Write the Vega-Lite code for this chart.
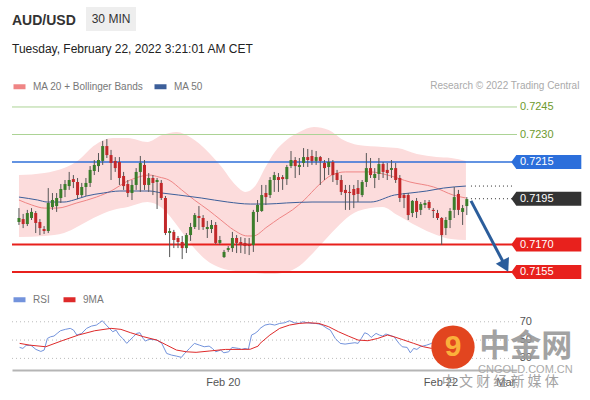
{
  "$schema": "https://vega.github.io/schema/vega-lite/v6.json",
  "width": 505,
  "height": 275,
  "autosize": "none",
  "padding": {"left": 12, "top": 95, "right": 73, "bottom": 30},
  "background": "white",
  "title": {
    "text": "AUD/USD",
    "subtitle": "Tuesday, February 22, 2022 3:21:01 AM CET",
    "anchor": "start",
    "frame": "group",
    "fontSize": 14,
    "fontWeight": "bold",
    "color": "#333333",
    "subtitleFontSize": 12,
    "subtitleColor": "#222222",
    "subtitlePadding": 16,
    "offset": -48
  },
  "config": {
    "view": {"stroke": null},
    "font": "Liberation Sans",
    "legend": {"labelFont": "Liberation Sans", "labelFontSize": 10, "labelColor": "#777777", "symbolType": "stroke", "symbolStrokeWidth": 5, "symbolSize": 144, "labelOffset": 5}
  },
  "datasets": {
    "candles": [
      {"i":0,"o":0.71823,"h":0.71899,"l":0.71807,"c":0.71845},
      {"i":1,"o":0.71839,"h":0.71867,"l":0.71790,"c":0.71812},
      {"i":2,"o":0.71812,"h":0.71889,"l":0.71801,"c":0.71872},
      {"i":3,"o":0.71845,"h":0.71899,"l":0.71834,"c":0.71878},
      {"i":4,"o":0.71872,"h":0.71883,"l":0.71763,"c":0.71818},
      {"i":5,"o":0.71823,"h":0.71839,"l":0.71752,"c":0.71790},
      {"i":6,"o":0.71785,"h":0.71801,"l":0.71758,"c":0.71774},
      {"i":7,"o":0.71774,"h":0.72008,"l":0.71763,"c":0.71927},
      {"i":8,"o":0.71905,"h":0.71981,"l":0.71889,"c":0.71943},
      {"i":9,"o":0.71910,"h":0.71981,"l":0.71878,"c":0.71954},
      {"i":10,"o":0.71954,"h":0.72030,"l":0.71927,"c":0.72003},
      {"i":11,"o":0.71998,"h":0.72052,"l":0.71959,"c":0.72030},
      {"i":12,"o":0.72019,"h":0.72096,"l":0.71998,"c":0.72052},
      {"i":13,"o":0.72057,"h":0.72079,"l":0.72008,"c":0.72041},
      {"i":14,"o":0.72041,"h":0.72063,"l":0.71948,"c":0.71970},
      {"i":15,"o":0.71970,"h":0.72036,"l":0.71959,"c":0.72014},
      {"i":16,"o":0.72014,"h":0.72063,"l":0.71965,"c":0.72036},
      {"i":17,"o":0.72036,"h":0.72128,"l":0.72014,"c":0.72107},
      {"i":18,"o":0.72101,"h":0.72161,"l":0.72079,"c":0.72134},
      {"i":19,"o":0.72128,"h":0.72199,"l":0.72096,"c":0.72161},
      {"i":20,"o":0.72156,"h":0.72265,"l":0.72134,"c":0.72237},
      {"i":21,"o":0.72237,"h":0.72275,"l":0.72172,"c":0.72188},
      {"i":22,"o":0.72188,"h":0.72216,"l":0.72052,"c":0.72145},
      {"i":23,"o":0.72156,"h":0.72177,"l":0.72096,"c":0.72117},
      {"i":24,"o":0.72150,"h":0.72177,"l":0.72025,"c":0.72063},
      {"i":25,"o":0.72074,"h":0.72096,"l":0.71998,"c":0.72019},
      {"i":26,"o":0.72030,"h":0.72052,"l":0.71959,"c":0.71981},
      {"i":27,"o":0.71981,"h":0.72052,"l":0.71943,"c":0.72025},
      {"i":28,"o":0.72025,"h":0.72117,"l":0.71998,"c":0.72096},
      {"i":29,"o":0.72096,"h":0.72183,"l":0.71987,"c":0.72145},
      {"i":30,"o":0.72134,"h":0.72161,"l":0.71998,"c":0.72025},
      {"i":31,"o":0.72025,"h":0.72090,"l":0.71987,"c":0.72063},
      {"i":32,"o":0.72063,"h":0.72079,"l":0.71970,"c":0.72036},
      {"i":33,"o":0.72041,"h":0.72063,"l":0.71894,"c":0.72052},
      {"i":34,"o":0.72036,"h":0.72052,"l":0.71943,"c":0.71954},
      {"i":35,"o":0.71954,"h":0.71965,"l":0.71752,"c":0.71763},
      {"i":36,"o":0.71763,"h":0.71790,"l":0.71632,"c":0.71774},
      {"i":37,"o":0.71769,"h":0.71780,"l":0.71681,"c":0.71725},
      {"i":38,"o":0.71736,"h":0.71747,"l":0.71681,"c":0.71714},
      {"i":39,"o":0.71714,"h":0.71747,"l":0.71621,"c":0.71681},
      {"i":40,"o":0.71681,"h":0.71763,"l":0.71654,"c":0.71752},
      {"i":41,"o":0.71752,"h":0.71818,"l":0.71720,"c":0.71796},
      {"i":42,"o":0.71796,"h":0.71872,"l":0.71785,"c":0.71861},
      {"i":43,"o":0.71856,"h":0.71910,"l":0.71780,"c":0.71845},
      {"i":44,"o":0.71845,"h":0.71861,"l":0.71780,"c":0.71796},
      {"i":45,"o":0.71785,"h":0.71829,"l":0.71736,"c":0.71796},
      {"i":46,"o":0.71785,"h":0.71834,"l":0.71763,"c":0.71807},
      {"i":47,"o":0.71807,"h":0.71823,"l":0.71703,"c":0.71709},
      {"i":48,"o":0.71709,"h":0.71747,"l":0.71698,"c":0.71725},
      {"i":49,"o":0.71632,"h":0.71671,"l":0.71627,"c":0.71660},
      {"i":50,"o":0.71671,"h":0.71692,"l":0.71660,"c":0.71681},
      {"i":51,"o":0.71681,"h":0.71769,"l":0.71660,"c":0.71736},
      {"i":52,"o":0.71736,"h":0.71752,"l":0.71654,"c":0.71709},
      {"i":53,"o":0.71714,"h":0.71741,"l":0.71654,"c":0.71698},
      {"i":54,"o":0.71709,"h":0.71736,"l":0.71649,"c":0.71692},
      {"i":55,"o":0.71703,"h":0.71736,"l":0.71643,"c":0.71692},
      {"i":56,"o":0.71698,"h":0.71889,"l":0.71660,"c":0.71878},
      {"i":57,"o":0.71878,"h":0.71943,"l":0.71823,"c":0.71916},
      {"i":58,"o":0.71883,"h":0.72025,"l":0.71878,"c":0.71970},
      {"i":59,"o":0.71981,"h":0.72025,"l":0.71916,"c":0.71959},
      {"i":60,"o":0.71970,"h":0.72068,"l":0.71954,"c":0.72052},
      {"i":61,"o":0.72052,"h":0.72096,"l":0.71987,"c":0.72079},
      {"i":62,"o":0.72068,"h":0.72090,"l":0.71987,"c":0.72052},
      {"i":63,"o":0.72068,"h":0.72079,"l":0.71998,"c":0.72057},
      {"i":64,"o":0.72057,"h":0.72134,"l":0.72025,"c":0.72123},
      {"i":65,"o":0.72128,"h":0.72210,"l":0.72117,"c":0.72161},
      {"i":66,"o":0.72161,"h":0.72177,"l":0.72063,"c":0.72128},
      {"i":67,"o":0.72123,"h":0.72172,"l":0.72079,"c":0.72134},
      {"i":68,"o":0.72145,"h":0.72226,"l":0.72123,"c":0.72177},
      {"i":69,"o":0.72177,"h":0.72221,"l":0.72123,"c":0.72161},
      {"i":70,"o":0.72183,"h":0.72216,"l":0.72134,"c":0.72156},
      {"i":71,"o":0.72156,"h":0.72210,"l":0.72134,"c":0.72177},
      {"i":72,"o":0.72177,"h":0.72183,"l":0.72025,"c":0.72156},
      {"i":73,"o":0.72145,"h":0.72161,"l":0.72052,"c":0.72117},
      {"i":74,"o":0.72123,"h":0.72172,"l":0.72079,"c":0.72150},
      {"i":75,"o":0.72150,"h":0.72161,"l":0.72041,"c":0.72079},
      {"i":76,"o":0.72090,"h":0.72107,"l":0.72025,"c":0.72052},
      {"i":77,"o":0.72052,"h":0.72079,"l":0.71970,"c":0.71987},
      {"i":78,"o":0.71998,"h":0.72025,"l":0.71889,"c":0.71981},
      {"i":79,"o":0.71987,"h":0.72025,"l":0.71889,"c":0.71981},
      {"i":80,"o":0.72003,"h":0.72025,"l":0.71899,"c":0.71970},
      {"i":81,"o":0.72008,"h":0.72052,"l":0.71932,"c":0.71976},
      {"i":82,"o":0.71970,"h":0.72052,"l":0.71959,"c":0.72041},
      {"i":83,"o":0.72041,"h":0.72199,"l":0.72014,"c":0.72117},
      {"i":84,"o":0.72117,"h":0.72172,"l":0.72063,"c":0.72079},
      {"i":85,"o":0.72063,"h":0.72117,"l":0.72008,"c":0.72085},
      {"i":86,"o":0.72085,"h":0.72172,"l":0.72052,"c":0.72139},
      {"i":87,"o":0.72139,"h":0.72150,"l":0.72063,"c":0.72096},
      {"i":88,"o":0.72107,"h":0.72145,"l":0.72052,"c":0.72090},
      {"i":89,"o":0.72107,"h":0.72161,"l":0.72063,"c":0.72117},
      {"i":90,"o":0.72117,"h":0.72145,"l":0.72036,"c":0.72052},
      {"i":91,"o":0.72063,"h":0.72079,"l":0.71932,"c":0.71954},
      {"i":92,"o":0.71970,"h":0.71981,"l":0.71899,"c":0.71954},
      {"i":93,"o":0.71970,"h":0.71981,"l":0.71834,"c":0.71861},
      {"i":94,"o":0.71872,"h":0.71943,"l":0.71850,"c":0.71938},
      {"i":95,"o":0.71938,"h":0.71954,"l":0.71845,"c":0.71878},
      {"i":96,"o":0.71889,"h":0.71932,"l":0.71861,"c":0.71921},
      {"i":97,"o":0.71916,"h":0.71943,"l":0.71899,"c":0.71927},
      {"i":98,"o":0.71932,"h":0.71943,"l":0.71889,"c":0.71899},
      {"i":99,"o":0.71889,"h":0.71899,"l":0.71845,"c":0.71883},
      {"i":100,"o":0.71872,"h":0.71889,"l":0.71834,"c":0.71845},
      {"i":101,"o":0.71845,"h":0.71850,"l":0.71698,"c":0.71752},
      {"i":102,"o":0.71790,"h":0.71850,"l":0.71752,"c":0.71834},
      {"i":103,"o":0.71834,"h":0.71899,"l":0.71790,"c":0.71883},
      {"i":104,"o":0.71889,"h":0.72014,"l":0.71845,"c":0.71959},
      {"i":105,"o":0.71976,"h":0.71998,"l":0.71861,"c":0.71889},
      {"i":106,"o":0.71878,"h":0.71916,"l":0.71807,"c":0.71899},
      {"i":107,"o":0.71910,"h":0.71959,"l":0.71861,"c":0.71948}
    ],
    "bands": [
      {"i":0,"u":0.72079,"lo":0.71741},
      {"i":6.09,"u":0.72090,"lo":0.71747},
      {"i":10.77,"u":0.72117,"lo":0.71763},
      {"i":14.29,"u":0.72161,"lo":0.71801},
      {"i":17.80,"u":0.72237,"lo":0.71845},
      {"i":22.48,"u":0.72281,"lo":0.71889},
      {"i":26.00,"u":0.72281,"lo":0.71905},
      {"i":30.68,"u":0.72259,"lo":0.71932},
      {"i":34.19,"u":0.72297,"lo":0.71899},
      {"i":37.70,"u":0.72314,"lo":0.71807},
      {"i":41.22,"u":0.72281,"lo":0.71698},
      {"i":44.73,"u":0.72216,"lo":0.71616},
      {"i":48.24,"u":0.72128,"lo":0.71572},
      {"i":51.76,"u":0.72025,"lo":0.71556},
      {"i":54.10,"u":0.71987,"lo":0.71550},
      {"i":56.44,"u":0.72019,"lo":0.71545},
      {"i":58.78,"u":0.72117,"lo":0.71540},
      {"i":61.12,"u":0.72205,"lo":0.71540},
      {"i":63.93,"u":0.72270,"lo":0.71550},
      {"i":66.98,"u":0.72314,"lo":0.71583},
      {"i":70.49,"u":0.72341,"lo":0.71660},
      {"i":74.00,"u":0.72325,"lo":0.71747},
      {"i":77.52,"u":0.72270,"lo":0.71829},
      {"i":81.03,"u":0.72243,"lo":0.71883},
      {"i":86.89,"u":0.72232,"lo":0.71905},
      {"i":90.40,"u":0.72226,"lo":0.71861},
      {"i":95.08,"u":0.72194,"lo":0.71801},
      {"i":99.77,"u":0.72177,"lo":0.71752},
      {"i":103.28,"u":0.72172,"lo":0.71730},
      {"i":106.79,"u":0.72156,"lo":0.71725}
    ],
    "ma": [
      {"s":"MA 20 + Bollinger Bands","i":0,"v":0.71943},
      {"s":"MA 20 + Bollinger Bands","i":3.04,"v":0.71916},
      {"s":"MA 20 + Bollinger Bands","i":6.09,"v":0.71899},
      {"s":"MA 20 + Bollinger Bands","i":9.13,"v":0.71899},
      {"s":"MA 20 + Bollinger Bands","i":13.82,"v":0.71927},
      {"s":"MA 20 + Bollinger Bands","i":18.50,"v":0.71959},
      {"s":"MA 20 + Bollinger Bands","i":22.48,"v":0.71998},
      {"s":"MA 20 + Bollinger Bands","i":25.53,"v":0.72041},
      {"s":"MA 20 + Bollinger Bands","i":27.87,"v":0.72063},
      {"s":"MA 20 + Bollinger Bands","i":31.15,"v":0.72079},
      {"s":"MA 20 + Bollinger Bands","i":33.49,"v":0.72068},
      {"s":"MA 20 + Bollinger Bands","i":35.83,"v":0.72052},
      {"s":"MA 20 + Bollinger Bands","i":38.88,"v":0.71998},
      {"s":"MA 20 + Bollinger Bands","i":41.92,"v":0.71943},
      {"s":"MA 20 + Bollinger Bands","i":45.20,"v":0.71889},
      {"s":"MA 20 + Bollinger Bands","i":48.24,"v":0.71834},
      {"s":"MA 20 + Bollinger Bands","i":51.29,"v":0.71780},
      {"s":"MA 20 + Bollinger Bands","i":54.57,"v":0.71747},
      {"s":"MA 20 + Bollinger Bands","i":55.97,"v":0.71747},
      {"s":"MA 20 + Bollinger Bands","i":59.25,"v":0.71796},
      {"s":"MA 20 + Bollinger Bands","i":62.30,"v":0.71845},
      {"s":"MA 20 + Bollinger Bands","i":65.34,"v":0.71889},
      {"s":"MA 20 + Bollinger Bands","i":68.15,"v":0.71943},
      {"s":"MA 20 + Bollinger Bands","i":71.66,"v":0.72025},
      {"s":"MA 20 + Bollinger Bands","i":74.71,"v":0.72079},
      {"s":"MA 20 + Bollinger Bands","i":77.99,"v":0.72096},
      {"s":"MA 20 + Bollinger Bands","i":84.07,"v":0.72096},
      {"s":"MA 20 + Bollinger Bands","i":88.06,"v":0.72079},
      {"s":"MA 20 + Bollinger Bands","i":93.44,"v":0.72041},
      {"s":"MA 20 + Bollinger Bands","i":99.06,"v":0.72014},
      {"s":"MA 20 + Bollinger Bands","i":103.75,"v":0.71970},
      {"s":"MA 20 + Bollinger Bands","i":106.79,"v":0.71954},
      {"s":"MA 50","i":0,"v":0.71959},
      {"s":"MA 50","i":4.45,"v":0.71943},
      {"s":"MA 50","i":6.79,"v":0.71932},
      {"s":"MA 50","i":10.77,"v":0.71932},
      {"s":"MA 50","i":13.11,"v":0.71943},
      {"s":"MA 50","i":16.16,"v":0.71965},
      {"s":"MA 50","i":20.14,"v":0.71981},
      {"s":"MA 50","i":24.12,"v":0.71992},
      {"s":"MA 50","i":31.15,"v":0.71992},
      {"s":"MA 50","i":34.19,"v":0.71981},
      {"s":"MA 50","i":38.17,"v":0.71970},
      {"s":"MA 50","i":43.56,"v":0.71954},
      {"s":"MA 50","i":49.88,"v":0.71932},
      {"s":"MA 50","i":55.27,"v":0.71921},
      {"s":"MA 50","i":59.25,"v":0.71921},
      {"s":"MA 50","i":63.93,"v":0.71927},
      {"s":"MA 50","i":70.02,"v":0.71932},
      {"s":"MA 50","i":84.07,"v":0.71932},
      {"s":"MA 50","i":89.70,"v":0.71970},
      {"s":"MA 50","i":93.44,"v":0.71981},
      {"s":"MA 50","i":97.42,"v":0.71992},
      {"s":"MA 50","i":101.41,"v":0.72008},
      {"s":"MA 50","i":106.79,"v":0.72019}
    ],
    "levels": [
      {"p":0.7245,"kind":"target"},
      {"p":0.7230,"kind":"target"},
      {"p":0.7215,"kind":"pivot"},
      {"p":0.7195,"kind":"last"},
      {"p":0.7170,"kind":"support"},
      {"p":0.7155,"kind":"support"}
    ],
    "forecast": [
      {"i":108.0,"p":0.71938,"i2":116.2,"p2":0.71583}
    ],
    "rsiLevels": [
      {"v":70},
      {"v":50},
      {"v":30}
    ],
    "rsi": [
      {"s":"RSI","i":0.16,"v":42.0},{"s":"RSI","i":0.94,"v":40.9},{"s":"RSI","i":1.71,"v":44.2},{"s":"RSI","i":2.88,"v":44.2},
      {"s":"RSI","i":4.05,"v":39.8},{"s":"RSI","i":5.22,"v":37.6},{"s":"RSI","i":6.02,"v":39.1},{"s":"RSI","i":6.79,"v":51.8},
      {"s":"RSI","i":7.56,"v":53.6},{"s":"RSI","i":8.36,"v":54.4},{"s":"RSI","i":9.13,"v":57.3},{"s":"RSI","i":9.91,"v":60.2},
      {"s":"RSI","i":11.08,"v":61.7},{"s":"RSI","i":12.25,"v":62.8},{"s":"RSI","i":13.04,"v":60.9},{"s":"RSI","i":13.82,"v":55.5},
      {"s":"RSI","i":14.99,"v":57.3},{"s":"RSI","i":16.16,"v":62.8},{"s":"RSI","i":17.33,"v":65.3},{"s":"RSI","i":18.50,"v":66.4},
      {"s":"RSI","i":19.27,"v":68.9},{"s":"RSI","i":19.91,"v":71.1},{"s":"RSI","i":20.84,"v":66.4},{"s":"RSI","i":21.62,"v":62.8},
      {"s":"RSI","i":22.41,"v":59.1},{"s":"RSI","i":23.19,"v":60.9},{"s":"RSI","i":23.96,"v":55.5},{"s":"RSI","i":24.75,"v":51.8},
      {"s":"RSI","i":25.76,"v":46.4},{"s":"RSI","i":26.53,"v":50.0},{"s":"RSI","i":27.33,"v":53.6},{"s":"RSI","i":28.10,"v":57.3},
      {"s":"RSI","i":28.88,"v":58.0},{"s":"RSI","i":29.67,"v":51.8},{"s":"RSI","i":30.21,"v":48.9},{"s":"RSI","i":30.98,"v":50.7},
      {"s":"RSI","i":31.78,"v":50.7},{"s":"RSI","i":32.95,"v":50.0},{"s":"RSI","i":34.12,"v":46.4},{"s":"RSI","i":35.29,"v":35.4},
      {"s":"RSI","i":36.46,"v":33.6},{"s":"RSI","i":37.63,"v":32.5},{"s":"RSI","i":38.81,"v":31.1},{"s":"RSI","i":39.58,"v":35.4},
      {"s":"RSI","i":40.75,"v":40.9},{"s":"RSI","i":41.92,"v":46.4},{"s":"RSI","i":43.09,"v":44.5},{"s":"RSI","i":44.26,"v":42.7},
      {"s":"RSI","i":45.43,"v":43.4},{"s":"RSI","i":46.21,"v":40.9},{"s":"RSI","i":47.00,"v":37.2},{"s":"RSI","i":48.17,"v":39.1},
      {"s":"RSI","i":48.95,"v":36.1},{"s":"RSI","i":50.12,"v":37.2},{"s":"RSI","i":50.89,"v":42.0},{"s":"RSI","i":52.46,"v":40.9},
      {"s":"RSI","i":53.23,"v":39.8},{"s":"RSI","i":54.03,"v":40.9},{"s":"RSI","i":54.80,"v":39.8},{"s":"RSI","i":55.57,"v":55.5},
      {"s":"RSI","i":56.37,"v":57.3},{"s":"RSI","i":57.14,"v":60.0},{"s":"RSI","i":57.61,"v":62.8},{"s":"RSI","i":58.78,"v":66.4},
      {"s":"RSI","i":59.95,"v":67.5},{"s":"RSI","i":61.12,"v":66.4},{"s":"RSI","i":62.30,"v":68.2},{"s":"RSI","i":63.47,"v":68.9},
      {"s":"RSI","i":64.64,"v":71.1},{"s":"RSI","i":65.81,"v":68.9},{"s":"RSI","i":66.98,"v":68.2},{"s":"RSI","i":67.75,"v":70.0},
      {"s":"RSI","i":68.92,"v":68.9},{"s":"RSI","i":70.09,"v":68.2},{"s":"RSI","i":70.89,"v":68.2},{"s":"RSI","i":71.66,"v":67.5},
      {"s":"RSI","i":72.44,"v":66.4},{"s":"RSI","i":73.61,"v":62.8},{"s":"RSI","i":74.40,"v":60.9},{"s":"RSI","i":75.57,"v":51.8},
      {"s":"RSI","i":76.74,"v":46.4},{"s":"RSI","i":77.92,"v":45.6},{"s":"RSI","i":79.09,"v":46.4},{"s":"RSI","i":80.26,"v":47.1},
      {"s":"RSI","i":81.03,"v":46.4},{"s":"RSI","i":81.80,"v":51.8},{"s":"RSI","i":82.60,"v":58.0},{"s":"RSI","i":83.37,"v":56.6},
      {"s":"RSI","i":84.15,"v":52.9},{"s":"RSI","i":85.32,"v":57.3},{"s":"RSI","i":86.11,"v":55.5},{"s":"RSI","i":86.89,"v":54.4},
      {"s":"RSI","i":87.66,"v":56.6},{"s":"RSI","i":88.45,"v":55.5},{"s":"RSI","i":89.62,"v":53.6},{"s":"RSI","i":90.80,"v":46.4},
      {"s":"RSI","i":91.57,"v":42.7},{"s":"RSI","i":92.74,"v":42.0},{"s":"RSI","i":93.51,"v":36.1},{"s":"RSI","i":94.31,"v":40.9},
      {"s":"RSI","i":95.08,"v":39.8},{"s":"RSI","i":95.86,"v":42.7},{"s":"RSI","i":97.42,"v":44.5},{"s":"RSI","i":98.59,"v":46.4},
      {"s":"RSI","i":99.77,"v":43.0},{"s":"RSI","i":100.94,"v":38.0},{"s":"RSI","i":102.11,"v":40.0},{"s":"RSI","i":103.75,"v":47.0},
      {"s":"RSI","i":104.90,"v":52.0},{"s":"RSI","i":105.85,"v":47.0},{"s":"RSI","i":106.79,"v":50.0},
      {"s":"9MA","i":0.16,"v":46.4},{"s":"9MA","i":2.51,"v":44.5},{"s":"9MA","i":6.39,"v":42.7},{"s":"9MA","i":10.30,"v":49.3},
      {"s":"9MA","i":14.22,"v":55.5},{"s":"9MA","i":18.10,"v":60.2},{"s":"9MA","i":22.01,"v":62.8},{"s":"9MA","i":24.36,"v":61.7},
      {"s":"9MA","i":26.70,"v":58.0},{"s":"9MA","i":29.81,"v":53.6},{"s":"9MA","i":32.95,"v":50.0},{"s":"9MA","i":35.29,"v":44.5},
      {"s":"9MA","i":37.63,"v":39.1},{"s":"9MA","i":39.98,"v":37.2},{"s":"9MA","i":42.32,"v":36.6},{"s":"9MA","i":45.43,"v":38.0},
      {"s":"9MA","i":49.34,"v":39.8},{"s":"9MA","i":53.23,"v":39.8},{"s":"9MA","i":55.27,"v":40.0},{"s":"9MA","i":57.14,"v":43.4},
      {"s":"9MA","i":57.61,"v":46.4},{"s":"9MA","i":59.95,"v":55.5},{"s":"9MA","i":62.30,"v":62.8},{"s":"9MA","i":64.64,"v":66.4},
      {"s":"9MA","i":66.98,"v":68.2},{"s":"9MA","i":69.32,"v":68.9},{"s":"9MA","i":71.66,"v":68.2},{"s":"9MA","i":74.00,"v":64.6},
      {"s":"9MA","i":76.35,"v":59.1},{"s":"9MA","i":78.69,"v":54.4},{"s":"9MA","i":81.03,"v":50.0},{"s":"9MA","i":83.37,"v":49.3},
      {"s":"9MA","i":85.71,"v":51.8},{"s":"9MA","i":88.06,"v":55.5},{"s":"9MA","i":89.62,"v":53.6},{"s":"9MA","i":91.97,"v":50.0},
      {"s":"9MA","i":94.31,"v":46.4},{"s":"9MA","i":96.65,"v":42.7},{"s":"9MA","i":98.59,"v":40.9},{"s":"9MA","i":102.1,"v":40.0},
      {"s":"9MA","i":106.8,"v":42.0}
    ]
  },
  "layer": [
    {
      "layer": [
        {
          "data": {"name": "bands"},
          "mark": {"type": "area", "color": "#fcdcdc", "opacity": 1, "interpolate": "monotone"},
          "encoding": {
            "x": {"field": "i", "type": "quantitative",
                  "scale": {"domain": [-0.47, 117.8], "nice": false, "zero": false},
                  "axis": {"values": [48.7, 100.7, 116.2],
                           "labelExpr": "datum.value < 60 ? 'Feb 20' : (datum.value < 110 ? 'Feb 22' : 'Mar')",
                           "ticks": false, "grid": false, "title": null,
                           "domainColor": "#b5b5b5", "domainWidth": 2,
                           "labelFontSize": 11, "labelColor": "#555555", "labelPadding": 6, "labelFlush": false}},
            "y": {"field": "u", "type": "quantitative",
                  "scale": {"domain": [0.710165, 0.725153], "nice": false, "zero": false},
                  "axis": null},
            "y2": {"field": "lo"}
          }
        },
        {
          "data": {"name": "levels"},
          "transform": [{"filter": "datum.kind == 'target'"}],
          "mark": {"type": "rule", "color": "#acd395", "strokeWidth": 1},
          "encoding": {"y": {"field": "p", "type": "quantitative", "axis": null}}
        },
        {
          "data": {"name": "levels"},
          "transform": [{"filter": "datum.kind == 'pivot'"}],
          "mark": {"type": "rule", "color": "#2f6fd8", "strokeWidth": 1.5},
          "encoding": {"y": {"field": "p", "type": "quantitative", "axis": null}}
        },
        {
          "data": {"name": "levels"},
          "transform": [{"filter": "datum.kind == 'support'"}],
          "mark": {"type": "rule", "color": "#e8201c", "strokeWidth": 2},
          "encoding": {"y": {"field": "p", "type": "quantitative", "axis": null}}
        },
        {
          "data": {"name": "ma"},
          "mark": {"type": "line", "strokeWidth": 1, "interpolate": "monotone"},
          "encoding": {
            "x": {"field": "i", "type": "quantitative"},
            "y": {"field": "v", "type": "quantitative", "axis": null},
            "color": {"field": "s", "type": "nominal",
                      "scale": {"domain": ["MA 20 + Bollinger Bands", "MA 50"], "range": ["#ef8585", "#3d5f9a"]},
                      "legend": {"orient": "none", "legendX": -1, "legendY": -17, "direction": "horizontal", "title": null, "columnPadding": 0}}
          }
        },
        {
          "data": {"name": "candles"},
          "mark": {"type": "rule", "color": "#555555", "strokeWidth": 1},
          "encoding": {
            "x": {"field": "i", "type": "quantitative"},
            "y": {"field": "l", "type": "quantitative", "axis": null},
            "y2": {"field": "h"}
          }
        },
        {
          "data": {"name": "candles"},
          "mark": {"type": "bar", "size": 3},
          "encoding": {
            "x": {"field": "i", "type": "quantitative"},
            "y": {"field": "o", "type": "quantitative", "axis": null},
            "y2": {"field": "c"},
            "color": {"condition": {"test": "datum.c >= datum.o", "value": "#3b7d2b"}, "value": "#c2282a"}
          }
        },
        {
          "data": {"name": "levels"},
          "transform": [{"filter": "datum.kind == 'last'"}],
          "mark": {"type": "rule", "color": "#333333", "strokeWidth": 1, "strokeDash": [1, 3]},
          "encoding": {
            "x": {"datum": 108.0},
            "x2": {"datum": 117.8},
            "y": {"field": "p", "type": "quantitative", "axis": null}
          }
        },
        {
          "data": {"name": "ma"},
          "transform": [{"filter": "datum.s == 'MA 50' && datum.i > 106"}],
          "mark": {"type": "rule", "color": "#333333", "strokeWidth": 1, "strokeDash": [1, 3]},
          "encoding": {
            "x": {"datum": 108.0},
            "x2": {"datum": 117.8},
            "y": {"field": "v", "type": "quantitative", "axis": null}
          }
        },
        {
          "data": {"name": "forecast"},
          "mark": {"type": "rule", "color": "#2b5d9b", "strokeWidth": 3},
          "encoding": {
            "x": {"field": "i", "type": "quantitative"},
            "x2": {"field": "i2"},
            "y": {"field": "p", "type": "quantitative", "axis": null},
            "y2": {"field": "p2"}
          }
        },
        {
          "data": {"name": "forecast"},
          "mark": {"type": "point", "shape": "triangle-down", "filled": true, "opacity": 1, "color": "#2b5d9b", "size": 220, "angle": -27},
          "encoding": {
            "x": {"field": "i2", "type": "quantitative"},
            "y": {"field": "p2", "type": "quantitative", "axis": null}
          }
        },
        {
          "data": {"name": "levels"},
          "transform": [{"filter": "datum.kind != 'target'"}],
          "mark": {"type": "point", "shape": "M-1,0L-0.857,-0.2L1,-0.2L1,0.2L-0.857,0.2Z", "filled": true, "opacity": 1, "size": 4900, "strokeWidth": 0},
          "encoding": {
            "x": {"datum": 126.0},
            "y": {"field": "p", "type": "quantitative", "axis": null},
            "color": {"condition": [{"test": "datum.kind == 'pivot'", "value": "#2c6fdb"}, {"test": "datum.kind == 'last'", "value": "#333333"}], "value": "#e8211d"}
          }
        },
        {
          "data": {"name": "levels"},
          "mark": {"type": "text", "align": "left", "baseline": "middle", "fontSize": 11},
          "encoding": {
            "x": {"datum": 119.7},
            "y": {"field": "p", "type": "quantitative", "axis": null},
            "text": {"field": "p", "type": "quantitative", "format": ".4f"},
            "color": {"condition": {"test": "datum.kind == 'target'", "value": "#6e9a2e"}, "value": "#ffffff"}
          }
        },
        {
          "data": {"values": [{"t": "30 MIN"}]},
          "mark": {"type": "point", "shape": "M-1,-0.48H1V0.48H-1Z", "filled": true, "opacity": 1, "size": 2500, "color": "#eeeeee", "strokeWidth": 0},
          "encoding": {"x": {"datum": 22.0}, "y": {"datum": 0.729295}}
        },
        {
          "data": {"values": [{"t": "30 MIN"}]},
          "mark": {"type": "text", "align": "center", "baseline": "middle", "fontSize": 12, "color": "#333333"},
          "encoding": {"x": {"datum": 22.0}, "y": {"datum": 0.729295}, "text": {"field": "t"}}
        },
        {
          "data": {"values": [{"t": "Research © 2022 Trading Central"}]},
          "mark": {"type": "text", "align": "right", "baseline": "middle", "fontSize": 10, "color": "#aaaaaa"},
          "encoding": {"x": {"datum": 133.9}, "y": {"datum": 0.725643}, "text": {"field": "t"}}
        }
      ]
    },
    {
      "layer": [
        {
          "data": {"name": "rsiLevels"},
          "mark": {"type": "rule", "color": "#bbbbbb", "strokeWidth": 1, "strokeDash": [1, 3]},
          "encoding": {
            "y": {"field": "v", "type": "quantitative",
                  "scale": {"domain": [17.3, 317.8], "nice": false, "zero": false},
                  "axis": null}
          }
        },
        {
          "data": {"name": "rsi"},
          "mark": {"type": "line", "strokeWidth": 1},
          "encoding": {
            "x": {"field": "i", "type": "quantitative"},
            "y": {"field": "v", "type": "quantitative", "axis": null},
            "stroke": {"field": "s", "type": "nominal",
                       "scale": {"domain": ["RSI", "9MA"], "range": ["#7393dc", "#de2a2a"]},
                       "legend": {"orient": "none", "legendX": -1, "legendY": 196, "direction": "horizontal", "title": null, "columnPadding": 3}}
          }
        },
        {
          "data": {"name": "rsiLevels"},
          "mark": {"type": "text", "align": "center", "baseline": "middle", "fontSize": 11, "color": "#555555"},
          "encoding": {
            "x": {"datum": 121.1},
            "y": {"field": "v", "type": "quantitative", "axis": null},
            "text": {"field": "v", "type": "quantitative"}
          }
        },
        {
          "data": {"values": [{"t": "logo"}]},
          "mark": {"type": "point", "shape": "circle", "filled": true, "opacity": 1, "size": 1880, "color": "#e2451f"},
          "encoding": {"x": {"datum": 103.7}, "y": {"datum": 42.3}}
        },
        {
          "data": {"values": [{"t": "9"}]},
          "mark": {"type": "text", "align": "center", "baseline": "middle", "fontSize": 30, "fontWeight": "bold", "color": "#fbb03b"},
          "encoding": {"x": {"datum": 103.7}, "y": {"datum": 42.3}, "text": {"field": "t"}}
        },
        {
          "data": {"values": [{"t": "中金网"}]},
          "mark": {"type": "text", "align": "center", "baseline": "middle", "fontSize": 31, "fontWeight": "bold", "font": "Noto Sans CJK SC", "color": "#999999", "opacity": 0.9},
          "encoding": {"x": {"datum": 121.1}, "y": {"datum": 42.3}, "text": {"field": "t"}}
        },
        {
          "data": {"values": [{"t": "CNGOLD.COM.CN"}]},
          "mark": {"type": "text", "align": "center", "baseline": "middle", "fontSize": 11, "color": "#aaaaaa"},
          "encoding": {"x": {"datum": 121.0}, "y": {"datum": 17.2}, "text": {"field": "t"}}
        },
        {
          "data": {"values": [{"t": "中 文 财 经 新 媒 体"}]},
          "mark": {"type": "text", "align": "center", "baseline": "middle", "fontSize": 14, "font": "Noto Sans CJK SC", "color": "#999999", "opacity": 0.9},
          "encoding": {"x": {"datum": 115.0}, "y": {"datum": 4.1}, "text": {"field": "t"}}
        }
      ]
    }
  ],
  "resolve": {"scale": {"y": "independent"}}
}
